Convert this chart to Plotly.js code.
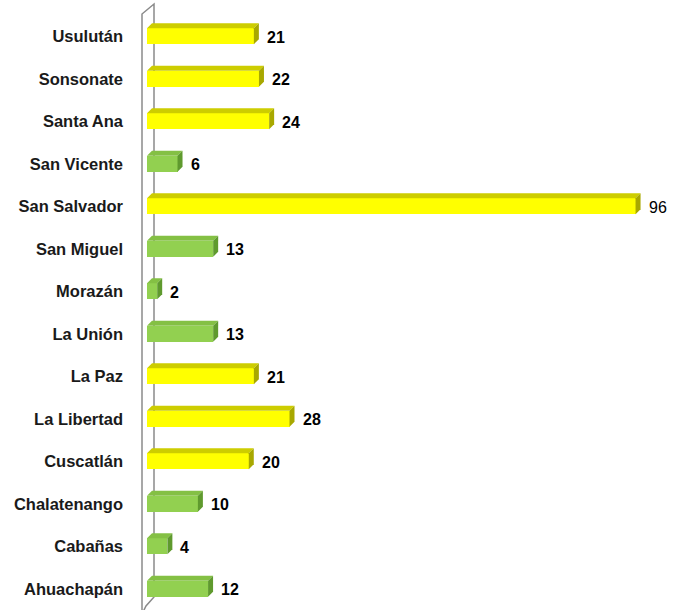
<!DOCTYPE html>
<html>
<head>
<meta charset="utf-8">
<script src="https://cdn.plot.ly/plotly-3.0.1.min.js"></script>
<style>html,body{margin:0;padding:0;background:#fff}#chart{width:681px;height:610px}</style>
</head>
<body>
<div id="chart"></div>
<script>
// Data (top to bottom as shown)
const departamentos = ["Usulután","Sonsonate","Santa Ana","San Vicente","San Salvador","San Miguel","Morazán","La Unión","La Paz","La Libertad","Cuscatlán","Chalatenango","Cabañas","Ahuachapán"];
const valores = [21,22,24,6,96,13,2,13,21,28,20,10,4,12];
const grupoAmarillo = [true,true,true,false,true,false,false,false,true,true,true,false,false,false];

// Layout constants
const W = 681, H = 610;
const M = {l:147, r:20, t:15, b:0};
const XMAX = 101;
const plotW = W - M.l - M.r, plotH = H - M.t - M.b;
const pxPerUnit = plotW / XMAX;
const DEPTH_X = 5, DEPTH_Y = 5, HALF_H = 8;
const barWidth = (2*HALF_H) / (plotH / departamentos.length);
const dx = DEPTH_X / pxPerUnit;

const pal = {
  y: {front:'#FFFF00', top:'#CDCD00', side:'#A8A800'},
  g: {front:'#92D050', top:'#84C044', side:'#5F9A2E'}
};
const idx = departamentos.map((_, i) => i);
const colorsFor = k => grupoAmarillo.map(a => (a ? pal.y : pal.g)[k]);

const shapes = [];
// axis wall (paper coords, not clipped)
const px = p => p / plotW;                 // horizontal pixel offset -> paper
const py = p => (H - M.b - p) / plotH;     // absolute page y -> paper
shapes.push({type:'path', xref:'paper', yref:'paper',
  path:`M ${px(-5)},${py(612)} L ${px(-5)},${py(14)} L ${px(7)},${py(4)} L ${px(7)},${py(597)} L ${px(-1)},${py(606)} L ${px(-4)},${py(612)}`,
  line:{color:'#8a8a8a', width:1.5}, fillcolor:'rgba(0,0,0,0)', layer:'below'});
valores.forEach((v, i) => {
  const c = grupoAmarillo[i] ? pal.y : pal.g;
  shapes.push({type:'path', xref:'x', yref:'y', ysizemode:'pixel', yanchor:i,
    path:`M 0,${HALF_H} L ${v},${HALF_H} L ${v+dx},${HALF_H+DEPTH_Y} L ${dx},${HALF_H+DEPTH_Y} Z`,
    fillcolor:c.top, line:{width:0}, layer:'above'});
  shapes.push({type:'path', xref:'x', yref:'y', ysizemode:'pixel', yanchor:i,
    path:`M ${v},${-HALF_H} L ${v},${HALF_H} L ${v+dx},${HALF_H+DEPTH_Y} L ${v+dx},${-HALF_H+DEPTH_Y} Z`,
    fillcolor:c.side, line:{width:0}, layer:'above'});
});

const annotations = valores.map((v, i) => ({
  x: v, y: i, xref:'x', yref:'y', text: (v === Math.max(...valores)) ? String(v) : '<b>' + v + '</b>',
  showarrow:false, xanchor:'left', yanchor:'middle', xshift:11, yshift:-1,
  font:{family:'Liberation Sans, Arial, sans-serif', size:16, color:'#000'}
}));

const trace = {
  type:'bar', orientation:'h', x: valores, y: idx, width: barWidth,
  marker:{color: colorsFor('front'), line:{width:0}},
  hoverinfo:'skip', cliponaxis:false
};

const layout = {
  width:W, height:H, margin:M, paper_bgcolor:'#fff', plot_bgcolor:'rgba(0,0,0,0)',
  showlegend:false, bargap:0,
  xaxis:{range:[0, XMAX], showgrid:false, zeroline:false, showline:false, showticklabels:false, ticks:'', fixedrange:true},
  yaxis:{range:[departamentos.length-0.5, -0.5], tickvals: idx, ticktext: departamentos.map(d => '<b>'+d+'</b>'),
    showgrid:false, zeroline:false, showline:false, ticks:'', ticklabelstandoff:23,
    tickfont:{family:'Liberation Sans, Arial, sans-serif', size:16.5, color:'#1a1a1a'}, fixedrange:true},
  shapes: shapes, annotations: annotations
};

Plotly.newPlot('chart', [trace], layout, {displayModeBar:false, staticPlot:true});
</script>
</body>
</html>
